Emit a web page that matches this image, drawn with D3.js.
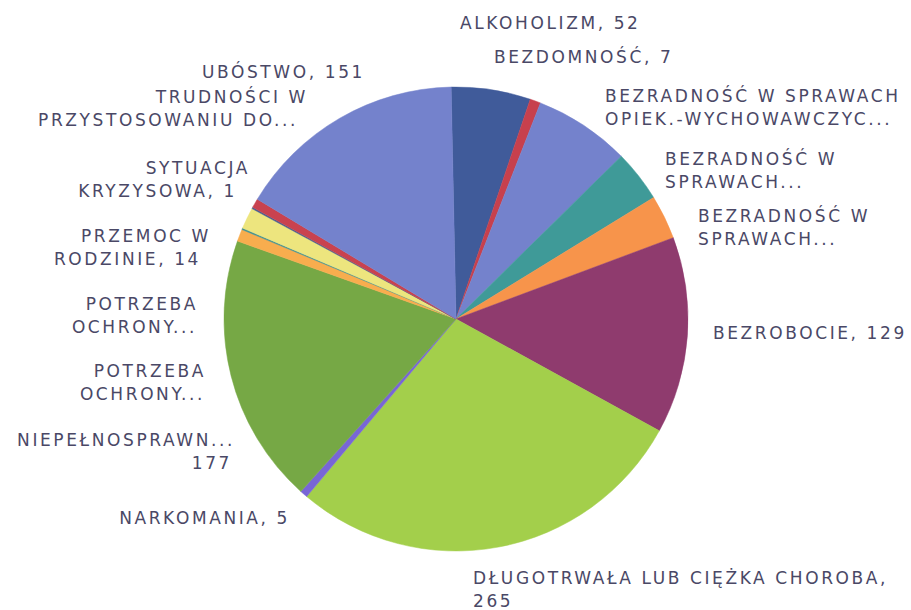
<!DOCTYPE html>
<html>
<head>
<meta charset="utf-8">
<script src="https://cdn.jsdelivr.net/npm/d3@7"></script>
<style>
  html, body { margin: 0; background: #fff; }
  svg text { font-family: "DejaVu Sans", sans-serif; }
</style>
</head>
<body>
<div id="chart"></div>
<script>
/* Pie of social-assistance reasons, clockwise in alphabetical order from 12 o'clock. */

var categories = [
  "ALKOHOLIZM", "BEZDOMNOŚĆ", "BEZRADNOŚĆ W SPRAWACH OPIEK.-WYCHOWAWCZYCH",
  "BEZRADNOŚĆ W SPRAWACH (2)", "BEZRADNOŚĆ W SPRAWACH (3)", "BEZROBOCIE",
  "DŁUGOTRWAŁA LUB CIĘŻKA CHOROBA", "NARKOMANIA", "NIEPEŁNOSPRAWNOŚĆ",
  "POTRZEBA OCHRONY (1)", "POTRZEBA OCHRONY (2)", "PRZEMOC W RODZINIE",
  "SYTUACJA KRYZYSOWA", "TRUDNOŚCI W PRZYSTOSOWANIU DO ŻYCIA", "UBÓSTWO"
];
// values; slices without a printed value estimated from their angle
var values = [52, 7, 63, 34, 29, 129, 265, 5, 177, 8, 1, 14, 1, 6, 151];
var sliceColors = [
  "#405b9a", "#c7404d", "#7482cc", "#3f9a98", "#f7944b", "#8f3b6e",
  "#a3cf4b", "#7866d6", "#76a845", "#f8ad4e", "#43918f", "#ede57e",
  "#4b5f8e", "#c9424f", "#7482cc"
];
// the label text exactly as printed (Excel truncates the long ones)
var labelLines = [
  ["ALKOHOLIZM, 52"],
  ["BEZDOMNOŚĆ, 7"],
  ["BEZRADNOŚĆ W SPRAWACH", "OPIEK.-WYCHOWAWCZYC..."],
  ["BEZRADNOŚĆ W", "SPRAWACH..."],
  ["BEZRADNOŚĆ W", "SPRAWACH..."],
  ["BEZROBOCIE, 129"],
  ["DŁUGOTRWAŁA LUB CIĘŻKA CHOROBA,", "265"],
  ["NARKOMANIA, 5"],
  ["NIEPEŁNOSPRAWN...", "177"],
  ["POTRZEBA", "OCHRONY..."],
  ["POTRZEBA", "OCHRONY..."],
  ["PRZEMOC W", "RODZINIE, 14"],
  ["SYTUACJA", "KRYZYSOWA, 1"],
  ["TRUDNOŚCI W", "PRZYSTOSOWANIU DO..."],
  ["UBÓSTWO, 151"]
];

// label layout: anchor x, first baseline y, text-anchor, per-line x shift
var labelLayout = [
  [460, 29, "start", [0]],
  [494, 63, "start", [0]],
  [605, 102, "start", [0, 0]],
  [665, 165, "start", [0, 0]],
  [698, 222, "start", [0, 0]],
  [713, 339, "start", [0]],
  [473, 584, "start", [0, 0]],
  [290, 524, "end", [0]],
  [235, 446, "end", [0, -3]],
  [198, 310, "end", [0, -1]],
  [206, 377, "end", [0, -1]],
  [211, 242, "end", [0, -10]],
  [250, 174, "end", [0, -13]],
  [308, 103, "end", [0, -10]],
  [365, 78, "end", [0]]
];

var W = 911, H = 610;
var cx = 456, cy = 319, radius = 232;
var rot = -0.021; // the scan is turned slightly

var svg = d3.select("#chart").append("svg")
  .attr("width", W).attr("height", H)
  .attr("viewBox", "0 0 " + W + " " + H);

var data = categories.map(function (c, i) { return { name: c, value: values[i], i: i }; });

var pie = d3.pie()
  .sort(null)
  .value(function (d) { return d.value; })
  .startAngle(rot)
  .endAngle(rot + 2 * Math.PI);

var arc = d3.arc().innerRadius(0).outerRadius(radius);

var g = svg.append("g").attr("transform", "translate(" + cx + "," + cy + ")");

g.selectAll("path").data(pie(data)).enter().append("path")
  .attr("d", arc)
  .attr("fill", function (d) { return sliceColors[d.data.i]; })
  .attr("stroke", function (d) { return sliceColors[d.data.i]; })
  .attr("stroke-width", 0.5);

var labels = svg.append("g").attr("class", "labels");

labelLines.forEach(function (lines, i) {
  var lay = labelLayout[i];
  var t = labels.append("text")
    .attr("text-anchor", lay[2])
    .attr("font-size", 17)
    .attr("letter-spacing", 2.6)
    .attr("fill", "#4a4866");
  lines.forEach(function (s, k) {
    t.append("tspan")
      .attr("x", lay[0] + (lay[3][k] || 0))
      .attr("y", lay[1] + k * 23)
      .text(s);
  });
});
</script>
</body>
</html>
